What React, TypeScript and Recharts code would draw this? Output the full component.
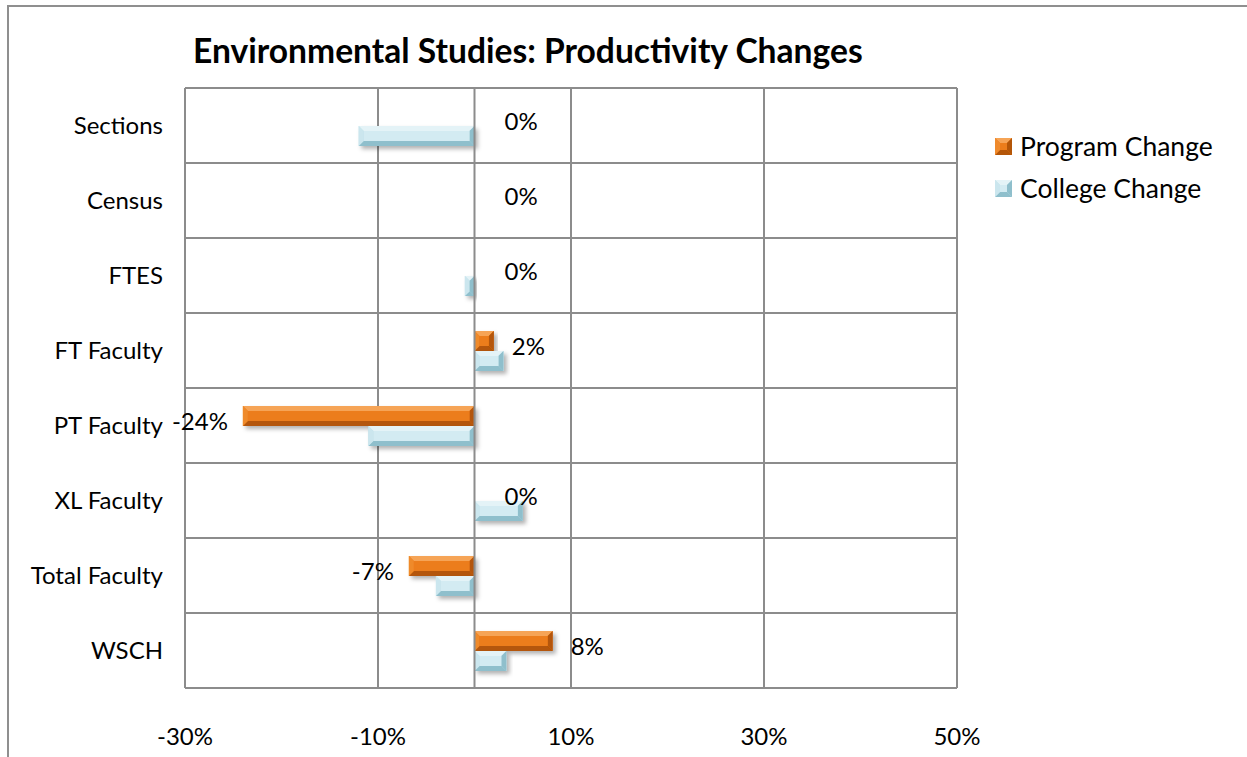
import React from 'react';
import { BarChart, Bar, XAxis, YAxis, CartesianGrid, Legend, ReferenceLine, LabelList } from 'recharts';

const categories = ['Sections', 'Census', 'FTES', 'FT Faculty', 'PT Faculty', 'XL Faculty', 'Total Faculty', 'WSCH'];
const programChange = [0, 0, 0, 2, -24, 0, -6.8, 8.1];
const collegeChange = [-12, 0, -1, 3, -11, 5, -4, 3.3];
const xTicks = [-30, -10, 10, 30, 50];

const data = categories.map((name, i) => ({
    name,
    program: programChange[i],
    college: collegeChange[i],
}));

const FONT = 'Lato, "Noto Sans", sans-serif';
const GRID = '#8c8c8c';

const ORANGE = { base: '#e8730f', light: '#f6a456', side: '#ef8a2c', dark: '#b45608', center: '#ec7d1b' };
const BLUE = { base: '#b9dde7', light: '#e4f3f7', side: '#cbe6ee', dark: '#8fbfcc', center: '#d3ebf2' };

type Colors = typeof ORANGE;

const LEGEND_W = 240;

const BevelBar = (props: any) => {
    const { x, y, width, height, colors } = props;
    const c: Colors = colors;
    const x0 = Math.min(x, x + width);
    const w = Math.abs(width);
    const y0 = Math.min(y, y + height);
    const h = Math.abs(height);
    if (!w || w < 0.5) return null;
    const b = Math.min(5, w / 2, h / 2);
    const x1 = x0 + w;
    const y1 = y0 + h;
    return (
        <g filter="url(#barShadow)">
            <rect x={x0} y={y0} width={w} height={h} fill={c.base} />
            <polygon points={`${x0},${y0} ${x1},${y0} ${x1 - b},${y0 + b} ${x0 + b},${y0 + b}`} fill={c.light} />
            <polygon points={`${x0},${y1} ${x1},${y1} ${x1 - b},${y1 - b} ${x0 + b},${y1 - b}`} fill={c.dark} />
            <polygon points={`${x0},${y0} ${x0 + b},${y0 + b} ${x0 + b},${y1 - b} ${x0},${y1}`} fill={c.side} />
            <polygon points={`${x1},${y0} ${x1 - b},${y0 + b} ${x1 - b},${y1 - b} ${x1},${y1}`} fill={c.dark} />
            <rect x={x0 + b} y={y0 + b} width={Math.max(0, w - 2 * b)} height={Math.max(0, h - 2 * b)} fill={c.center} />
        </g>
    );
};

const ValueLabel = (props: any) => {
    const { x, y, width, height, value } = props;
    const left = Math.min(x, x + width);
    const right = Math.max(x, x + width);
    const v = Number(value);
    const pos = v >= 0;
    const tx = pos ? right + (v === 0 ? 30 : 18) : left - 15;
    return (
        <text
            x={tx}
            y={y + height / 2 + 4}
            textAnchor={pos ? 'start' : 'end'}
            dominantBaseline="central"
            fontSize={24}
            fontFamily={FONT}
            fill="#000"
        >
            {`${Math.round(v)}%`}
        </text>
    );
};

const LegendIcon = ({ colors }: { colors: Colors }) => (
    <svg width={17} height={17} style={{ marginRight: 8 }}>
        <rect x={0} y={0} width={17} height={17} fill={colors.base} />
        <polygon points="0,0 17,0 12,5 5,5" fill={colors.light} />
        <polygon points="0,17 17,17 12,12 5,12" fill={colors.dark} />
        <polygon points="0,0 5,5 5,12 0,17" fill={colors.side} />
        <polygon points="17,0 12,5 12,12 17,17" fill={colors.dark} />
        <rect x={5} y={5} width={7} height={7} fill={colors.center} />
    </svg>
);

const renderLegend = (props: any) => {
    const order = ['program', 'college'];
    const payload = [...(props.payload || [])].sort(
        (a: any, b: any) => order.indexOf(a.dataKey) - order.indexOf(b.dataKey)
    );
    return (
        <div style={{ fontFamily: FONT, fontSize: 26.5, color: '#000' }}>
            {payload.map((entry: any) => (
                <div key={entry.value} style={{ display: 'flex', alignItems: 'center', height: 42 }}>
                    <LegendIcon colors={entry.dataKey === 'program' ? ORANGE : BLUE} />
                    <span>{entry.value}</span>
                </div>
            ))}
        </div>
    );
};

const App: React.FC = () => {
    return (
        <div style={{ position: 'absolute', left: 0, top: 0, width: 1247, height: 757, overflow: 'hidden', background: '#fff' }}>
            <div
                style={{
                    position: 'absolute',
                    left: 7,
                    top: 5,
                    width: 1240,
                    height: 752,
                    borderLeft: '2px solid #8f8f8f',
                    borderTop: '2px solid #8f8f8f',
                    boxSizing: 'border-box',
                }}
            />
            <div
                style={{
                    position: 'absolute',
                    left: 193,
                    top: 33,
                    fontFamily: FONT,
                    fontWeight: 700,
                    fontSize: 33.6,
                    lineHeight: '34px',
                    color: '#000',
                    whiteSpace: 'nowrap',
                }}
            >
                Environmental Studies: Productivity Changes
            </div>
            <div style={{ position: 'absolute', left: 0, top: 0 }}>
                <BarChart
                    width={1247}
                    height={757}
                    data={data}
                    layout="vertical"
                    margin={{ top: 88, right: 290 - LEGEND_W, bottom: 39, left: 0 }}
                    barGap={0}
                    barSize={20}
                >
                    <defs>
                        <filter id="barShadow" x="-20%" y="-50%" width="140%" height="220%">
                            <feDropShadow dx={3} dy={3} stdDeviation={2} floodColor="#000" floodOpacity={0.3} />
                        </filter>
                    </defs>
                    <CartesianGrid
                        stroke={GRID}
                        strokeWidth={2}
                        horizontalCoordinatesGenerator={({ offset }: any) =>
                            Array.from({ length: categories.length + 1 }, (_, i) => offset.top + (i * offset.height) / categories.length)
                        }
                    />
                    <XAxis
                        type="number"
                        domain={[-30, 50]}
                        ticks={xTicks}
                        tickFormatter={(v) => `${v}%`}
                        axisLine={false}
                        tickLine={false}
                        tickSize={0}
                        tickMargin={40}
                        height={30}
                        tick={{ fill: '#000', fontSize: 24, fontFamily: FONT }}
                    />
                    <YAxis
                        type="category"
                        dataKey="name"
                        width={185}
                        axisLine={false}
                        tickLine={false}
                        tickSize={0}
                        tickMargin={22}
                        tick={{ fill: '#000', fontSize: 24, fontFamily: FONT }}
                    />
                    <ReferenceLine x={0} stroke={GRID} strokeWidth={2} />
                    <Legend
                        layout="vertical"
                        verticalAlign="top"
                        align="right"
                        content={renderLegend}
                        wrapperStyle={{ left: 995, top: 125, width: LEGEND_W }}
                    />
                    <Bar
                        dataKey="program"
                        name="Program Change"
                        fill={ORANGE.base}
                        isAnimationActive={false}
                        shape={(p: any) => <BevelBar {...p} colors={ORANGE} />}
                    >
                        <LabelList dataKey="program" content={ValueLabel} />
                    </Bar>
                    <Bar
                        dataKey="college"
                        name="College Change"
                        fill={BLUE.base}
                        isAnimationActive={false}
                        shape={(p: any) => <BevelBar {...p} colors={BLUE} />}
                    />
                </BarChart>
            </div>
        </div>
    );
};

export default App;
